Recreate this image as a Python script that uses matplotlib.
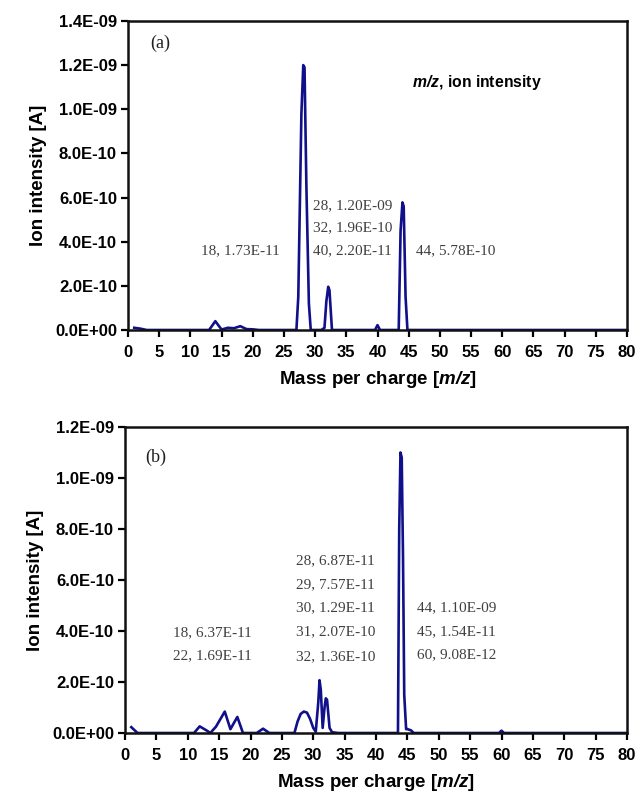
import matplotlib
matplotlib.use("Agg")
import matplotlib.pyplot as plt
from matplotlib.ticker import FixedLocator, FuncFormatter

plt.rcParams["mathtext.fontset"] = "custom"
plt.rcParams["mathtext.bfit"] = "Liberation Sans:italic:bold"
plt.rcParams["mathtext.it"] = "Liberation Sans:italic:bold"
plt.rcParams["mathtext.bf"] = "Liberation Sans:bold"
plt.rcParams["mathtext.rm"] = "Liberation Sans:bold"

# ---- data: panel (a) ----
a_mz = [1, 2, 3, 13, 14, 15, 16, 17, 18, 19, 20, 21,
        27.0, 27.3, 27.8, 28.1, 28.3, 28.6, 29.0, 29.3,
        31.0, 31.5, 31.8, 32.1, 32.3, 32.7,
        39.6, 40.0, 40.4,
        43.4, 43.7, 44.0, 44.2, 44.5, 44.8, 80]
a_I = [1.0e-11, 6e-12, 0, 0, 4.0e-11, 2e-12, 1.0e-11, 8e-12, 1.73e-11, 4e-12, 3e-12, 0,
       0, 1.5e-10, 9.8e-10, 1.20e-9, 1.19e-9, 6.5e-10, 1.2e-10, 0,
       0, 1e-11, 1.3e-10, 1.96e-10, 1.8e-10, 0,
       0, 2.2e-11, 0,
       0, 4.5e-10, 5.78e-10, 5.6e-10, 1.5e-10, 0, 0]
a_labels = ["28, 1.20E-09", "32, 1.96E-10", "40, 2.20E-11"]
a_label_left = "18, 1.73E-11"
a_label_right = "44, 5.78E-10"

# ---- data: panel (b) ----
b_mz = [1, 2, 11, 11.9, 13, 13.6, 14.5, 15.9, 16.8, 17.9, 18.8, 21, 22.0, 23,
        27.0, 27.5, 28.0, 28.5, 29.0, 29.5, 30.0, 30.4, 30.8, 31.0, 31.2, 31.5, 31.8, 32.0, 32.2, 32.6, 33.0, 34.0,
        43.5, 43.7, 43.9, 44.1, 44.3, 44.5, 44.8, 45.0, 45.6, 46.0,
        59.6, 60.0, 60.4, 80]
b_I = [2.3e-11, 0, 0, 2.6e-11, 1.0e-11, 0, 2.5e-11, 8.4e-11, 1.5e-11, 6.3e-11, 0, 0, 1.69e-11, 0,
       0, 4.5e-11, 7.5e-11, 8.4e-11, 8.0e-11, 5.5e-11, 2.0e-11, 5e-12, 1.2e-10, 2.07e-10, 1.7e-10, 2e-11, 1.0e-10, 1.36e-10, 1.3e-10, 2e-11, 3e-12, 0,
       0, 8.0e-10, 1.10e-9, 1.08e-9, 7.0e-10, 1.5e-10, 1.5e-11, 1.54e-11, 1.0e-11, 0,
       0, 9.08e-12, 0, 0]
b_labels_left = ["18, 6.37E-11", "22, 1.69E-11"]
b_labels_mid = ["28, 6.87E-11", "29, 7.57E-11", "30, 1.29E-11", "31, 2.07E-10", "32, 1.36E-10"]
b_labels_right = ["44, 1.10E-09", "45, 1.54E-11", "60, 9.08E-12"]

x_ticks = list(range(0, 81, 5))
a_yticks = [0, 2e-10, 4e-10, 6e-10, 8e-10, 1.0e-9, 1.2e-9, 1.4e-9]
b_yticks = [0, 2e-10, 4e-10, 6e-10, 8e-10, 1.0e-9, 1.2e-9]

SANS = "Liberation Sans"
SERIF = "Liberation Serif"
LINE_COLOR = "#10108a"
TXT_COLOR = "#404040"
XLABEL = r"Mass per charge [$\mathbfit{m/z}$]"


def fmt_e(v, pos=None):
    if v == 0:
        return "0.0E+00"
    return "%.1E" % v


fig = plt.figure(figsize=(6.42, 7.95), dpi=100)
ax_a = fig.add_axes([128 / 642, 1 - 330 / 795, 499 / 642, 309 / 795])
ax_b = fig.add_axes([125 / 642, 1 - 733 / 795, 502 / 642, 306 / 795])


def style(ax, yticks, ymax):
    ax.set_xlim(0, 80)
    ax.set_ylim(0, ymax)
    ax.xaxis.set_major_locator(FixedLocator(x_ticks))
    ax.yaxis.set_major_locator(FixedLocator(yticks))
    ax.yaxis.set_major_formatter(FuncFormatter(fmt_e))
    ax.tick_params(direction="out", length=5, width=1.6, pad=3, color="black")
    ax.tick_params(axis="x", pad=6)
    for lab in ax.get_xticklabels() + ax.get_yticklabels():
        lab.set_fontfamily(SANS)
        lab.set_fontweight("bold")
        lab.set_fontsize(12)
    for sp in ax.spines.values():
        sp.set_linewidth(1.8)
        sp.set_color("#111111")
    ax.set_ylabel("Ion intensity [A]", fontfamily=SANS, fontweight="bold", fontsize=13.5, labelpad=6)
    ax.set_xlabel(XLABEL, fontfamily=SANS, fontweight="bold", fontsize=13.5, labelpad=6)


tkw = dict(fontfamily=SERIF, fontsize=11, color=TXT_COLOR, va="center")

# Panel a
ax_a.plot(a_mz, a_I, color=LINE_COLOR, lw=1.9, solid_joinstyle="round")
style(ax_a, a_yticks, 1.4e-9)
ax_a.text(3.5, 1.3e-9, "(a)", fontfamily=SERIF, fontsize=13, color="#202020", va="center")
ax_a.text(45.5, 1.123e-9, r"$\mathbfit{m/z}$, ion intensity", fontfamily=SANS, fontweight="bold",
          fontsize=11.3, color="black", va="center")
ax_a.text(11.7, 3.6e-10, a_label_left, **tkw)
for s, y in zip(a_labels, [5.64e-10, 4.64e-10, 3.6e-10]):
    ax_a.text(29.6, y, s, **tkw)
ax_a.text(46.2, 3.6e-10, a_label_right, **tkw)

# Panel b
ax_b.plot(b_mz, b_I, color=LINE_COLOR, lw=1.9, solid_joinstyle="round")
style(ax_b, b_yticks, 1.2e-9)
ax_b.text(3.3, 1.08e-9, "(b)", fontfamily=SERIF, fontsize=13, color="#202020", va="center")
for s, y in zip(b_labels_left, [3.93e-10, 3.03e-10]):
    ax_b.text(7.6, y, s, **tkw)
for s, y in zip(b_labels_mid, [6.77e-10, 5.83e-10, 4.93e-10, 3.99e-10, 2.98e-10]):
    ax_b.text(27.3, y, s, **tkw)
for s, y in zip(b_labels_right, [4.9e-10, 3.99e-10, 3.07e-10]):
    ax_b.text(46.6, y, s, **tkw)

fig.savefig("out.png", dpi=100)
